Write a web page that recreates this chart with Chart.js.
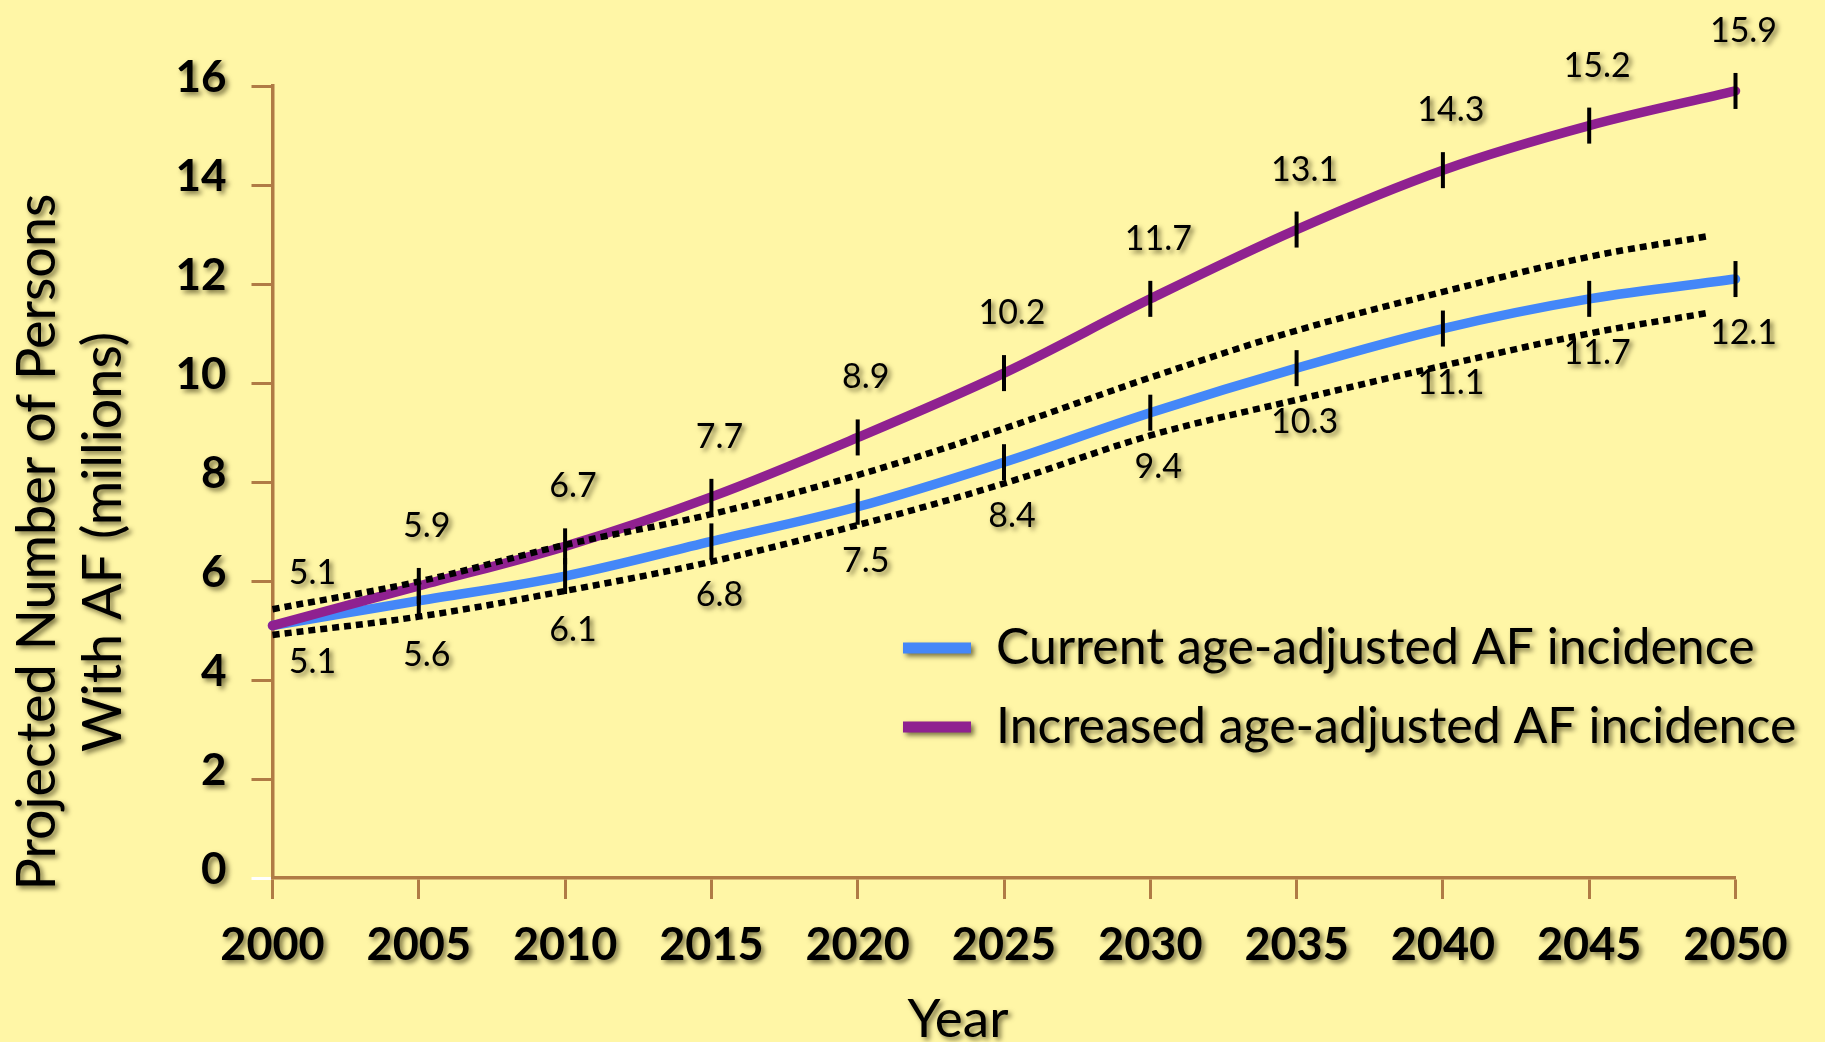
<!DOCTYPE html>
<html>
<head>
<meta charset="utf-8">
<script src="https://cdn.jsdelivr.net/npm/chart.js@4.4.1/dist/chart.umd.min.js"></script>
<style>
  html, body { margin: 0; padding: 0; background: #FFF6A6; }
  canvas { display: block; }
</style>
</head>
<body>
<canvas id="c" width="1825" height="1042"></canvas>
<script>
// ---------------- data ----------------
const years = [2000, 2005, 2010, 2015, 2020, 2025, 2030, 2035, 2040, 2045, 2050];
const currentIncidence  = [5.1, 5.6, 6.1, 6.8, 7.5, 8.4, 9.4, 10.3, 11.1, 11.7, 12.1];
const increasedIncidence = [5.1, 5.9, 6.7, 7.7, 8.9, 10.2, 11.7, 13.1, 14.3, 15.2, 15.9];
const bandYears = [2000, 2005, 2010, 2015, 2020, 2025, 2030, 2035, 2040, 2045, 2049];
const upperBand = [5.43, 5.99, 6.73, 7.35, 8.14, 9.08, 10.11, 11.06, 11.84, 12.55, 12.96];
const lowerBand = [4.91, 5.28, 5.80, 6.39, 7.13, 7.97, 8.94, 9.66, 10.35, 11.0, 11.41];
const yTickValues = [0, 2, 4, 6, 8, 10, 12, 14, 16];
const seriesNames = ['Current age-adjusted AF incidence', 'Increased age-adjusted AF incidence'];
const xTitle = 'Year';
const yTitle = ['Projected Number of Persons', 'With AF (millions)'];

// ---------------- style ----------------
const F_NUM = "Lato, 'Open Sans', sans-serif";
const F_TXT = "Lato, 'Open Sans', sans-serif";
const BG = '#FFF6A6';
const BROWN = '#B07B45';
const BLUE = '#4487F8';
const PURPLE = '#8F2190';

function applyShadow(c) {
  c.shadowColor = 'rgba(35,30,0,0.6)';
  c.shadowBlur = 5;
  c.shadowOffsetX = 3;
  c.shadowOffsetY = 3;
}

const toPts = (xs, ys) => xs.map((x, i) => ({ x: x, y: ys[i] }));

// ---------------- plugins ----------------
const bgPlugin = {
  id: 'bg',
  beforeDraw(chart) {
    const c = chart.ctx;
    c.save();
    c.fillStyle = BG;
    c.fillRect(0, 0, chart.width, chart.height);
    c.restore();
  }
};

const layoutTweaks = {
  id: 'layoutTweaks',
  afterLayout(chart) {
    Object.values(chart.scales).forEach(s => {
      if (!s._shadowWrapped) {
        const orig = s.drawLabels.bind(s);
        s.drawLabels = (ca) => { const c = s.ctx; c.save(); applyShadow(c); orig(ca); c.restore(); };
        s._shadowWrapped = true;
      }
    });
    const lg = chart.legend;
    if (lg) {
      lg.left = 874; lg.top = 594;
      lg.right = lg.left + lg.width;
      lg.bottom = lg.top + 300;
      if (!lg._shadowWrapped) {
        const o = lg.draw.bind(lg);
        lg.draw = (ca) => { const c = lg.ctx; c.save(); applyShadow(c); o(ca); c.restore(); };
        lg._shadowWrapped = true;
      }
    }
  }
};

const valueLabels = {
  id: 'valueLabels',
  afterDatasetsDraw(chart) {
    const c = chart.ctx;
    c.save();
    applyShadow(c);
    c.font = '34px ' + F_NUM;
    c.fillStyle = '#000';
    c.textAlign = 'center';
    c.textBaseline = 'middle';
    [[0, 1], [1, -1]].forEach(([di, dir]) => {
      const meta = chart.getDatasetMeta(di);
      const vals = chart.data.datasets[di].data;
      meta.data.forEach((pt, j) => {
        const first = j === 0;
        const dx = first ? 40 : 8;
        const dy = dir > 0 ? (first ? 36 : 54) : -(first ? 53 : 60);
        c.fillText(vals[j].y.toFixed(1), pt.x + dx, pt.y + dy);
      });
    });
    c.restore();
  }
};

const axisTitles = {
  id: 'axisTitles',
  afterDraw(chart) {
    const c = chart.ctx;
    c.save();
    applyShadow(c);
    c.fillStyle = '#000';
    c.textAlign = 'center';
    c.textBaseline = 'alphabetic';
    c.font = '54px ' + F_TXT;
    const baseX = [55, 121];
    yTitle.forEach((t, i) => {
      c.save();
      c.translate(baseX[i], 542);
      c.rotate(-Math.PI / 2);
      c.fillText(t, 0, 0);
      c.restore();
    });
    c.font = '53px ' + F_TXT;
    c.fillText(xTitle, 958, 1037);
    c.restore();
  }
};

// ---------------- chart ----------------
const ctx = document.getElementById('c').getContext('2d');
new Chart(ctx, {
  type: 'line',
  data: {
    datasets: [
      {
        label: seriesNames[0],
        data: toPts(years, currentIncidence),
        borderColor: BLUE, backgroundColor: BLUE,
        borderWidth: 9.5, borderCapStyle: 'round',
        tension: 0.35,
        pointStyle: 'line', pointRotation: 90,
        pointRadius: (c) => c.dataIndex === 0 ? 0 : 18,
        pointBorderColor: '#000', pointBackgroundColor: '#000', pointBorderWidth: 4,
        clip: false, order: 3
      },
      {
        label: seriesNames[1],
        data: toPts(years, increasedIncidence),
        borderColor: PURPLE, backgroundColor: PURPLE,
        borderWidth: 9.5, borderCapStyle: 'round',
        tension: 0.35,
        pointStyle: 'line', pointRotation: 90,
        pointRadius: (c) => c.dataIndex === 0 ? 0 : 18,
        pointBorderColor: '#000', pointBackgroundColor: '#000', pointBorderWidth: 4,
        clip: false, order: 2
      },
      {
        label: 'upper',
        data: toPts(bandYears, upperBand),
        borderColor: '#000', backgroundColor: '#000',
        borderWidth: 6.5, borderDash: [7, 5],
        tension: 0.35, pointRadius: 0, clip: false, order: 1
      },
      {
        label: 'lower',
        data: toPts(bandYears, lowerBand),
        borderColor: '#000', backgroundColor: '#000',
        borderWidth: 6.5, borderDash: [7, 5],
        tension: 0.35, pointRadius: 0, clip: false, order: 1
      }
    ]
  },
  options: {
    responsive: false,
    devicePixelRatio: 1,
    animation: false,
    events: [],
    layout: { padding: { left: 0, top: 86, right: 89.5, bottom: 0 } },
    scales: {
      x: {
        type: 'linear', min: 2000, max: 2050,
        afterBuildTicks: (s) => { s.ticks = years.map(v => ({ value: v })); },
        afterFit: (s) => { s.height = 164; },
        ticks: {
          callback: (v) => String(v),
          font: { family: F_NUM, size: 45, weight: 'bold' },
          color: '#000', padding: 19, maxRotation: 0, autoSkip: false
        },
        grid: { drawOnChartArea: false, drawTicks: true, tickLength: 21, tickWidth: 3, tickColor: BROWN },
        border: { display: true, color: BROWN, width: 3.5 },
        title: { display: false }
      },
      y: {
        type: 'linear', min: 0, max: 16,
        afterBuildTicks: (s) => { s.ticks = yTickValues.map(v => ({ value: v })); },
        afterFit: (s) => { s.width = 272.5; },
        ticks: {
          font: { family: F_NUM, size: 44, weight: 'bold' },
          color: '#000', padding: 25, labelOffset: -8
        },
        grid: {
          drawOnChartArea: false, drawTicks: true, tickLength: 21, tickWidth: 3,
          tickColor: (c) => (c.tick && c.tick.value === 0) ? '#FFFFFF' : BROWN
        },
        border: { display: true, color: BROWN, width: 3.5 },
        title: { display: false }
      }
    },
    plugins: {
      tooltip: { enabled: false },
      legend: {
        display: true,
        position: 'chartArea',
        align: 'start',
        labels: {
          font: { family: F_TXT, size: 50 },
          color: '#000',
          boxWidth: 68, boxHeight: 11, padding: 29,
          filter: (item) => item.datasetIndex < 2,
          sort: (a, b) => a.datasetIndex - b.datasetIndex,
          generateLabels: (chart) => {
            const items = Chart.defaults.plugins.legend.labels.generateLabels(chart);
            items.forEach(it => { it.lineWidth = 0; });
            return items;
          }
        }
      }
    }
  },
  plugins: [bgPlugin, layoutTweaks, valueLabels, axisTitles]
});
</script>
</body>
</html>
